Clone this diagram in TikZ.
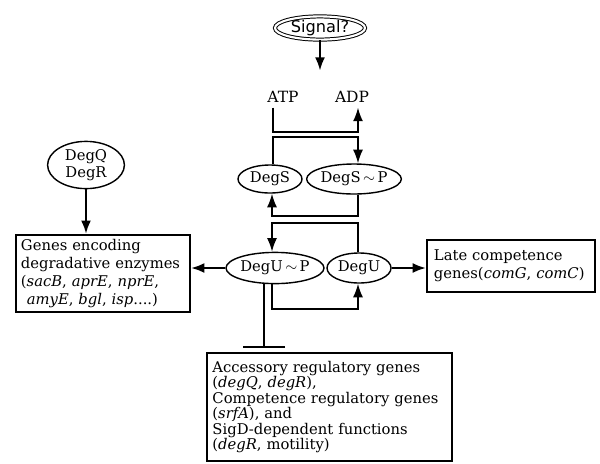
\documentclass[tikz,border=0pt]{standalone}
\usepackage{fontspec}
\setmainfont{DejaVu Serif}
\setsansfont{DejaVu Sans}
\usepackage{tikz}
\usetikzlibrary{arrows.meta, shapes.geometric}

\begin{document}
\begin{tikzpicture}[x=0.025cm, y=-0.025cm, node distance={21mm},
        main/.style = {draw, ellipse, inner sep=0pt, line width=1pt, font=\fontsize{10.5}{12}\selectfont},
        genebox/.style = {draw, rectangle, line width=1pt, align=left, inner sep=0pt},
        link/.style = {line width=1.1pt},
        heavy/.style = {line width=2pt},
        arr/.style = {-{Latex[length=3.4mm, width=2.5mm]}}]
    \useasboundingbox (0,0) rectangle (600,463);

    \node[main, double, double distance=1.5pt, line width=0.7pt, minimum width=2.25cm, minimum height=0.58cm, font=\sffamily\fontsize{11.5}{13}\selectfont] (signal) at (320,28) {Signal?};
    \node[font=\fontsize{11}{12}\selectfont] (atp) at (283,97) {ATP};
    \node[font=\fontsize{11}{12}\selectfont] (adp) at (352,97) {ADP};

    \node[main, minimum width=1.6cm, minimum height=0.7cm] (degs) at (270,179) {DegS};
    \node[main, minimum width=2.0cm, minimum height=0.75cm] (degsp) [right of=degs] {DegS\,$\sim$\,P};
    \node[main, minimum width=2.1cm, minimum height=0.78cm] (degup) at (275,268) {DegU\,$\sim$\,P};
    \node[main, minimum width=1.6cm, minimum height=0.75cm] (degu) [right of=degup] {DegU};
    \node[main, minimum width=1.92cm, minimum height=1.18cm, align=center] (degq) at (86,165) {DegQ\\DegR};

    \node[genebox, minimum width=4.35cm, minimum height=1.93cm, text width=4.1cm, font=\fontsize{10.5}{12.8}\selectfont] (genes) at (103,273.5)
        {Genes encoding\\degradative enzymes\\(\textit{sacB}, \textit{aprE}, \textit{nprE},\\\hspace*{0.4em}\textit{amyE}, \textit{bgl}, \textit{isp}....)};
    \node[genebox, minimum width=4.2cm, minimum height=1.3cm, text width=3.85cm, font=\fontsize{10.5}{13}\selectfont] (late) at (511,266)
        {Late competence\\genes(\textit{comG}, \textit{comC})};
    \node[genebox, minimum width=6.13cm, minimum height=2.7cm, text width=5.85cm, font=\fontsize{10.5}{11}\selectfont] (access) at (329.5,407)
        {Accessory regulatory genes\\(\textit{degQ}, \textit{degR}),\\Competence regulatory genes\\(\textit{srfA}), and\\SigD-dependent functions\\(\textit{degR}, motility)};

    % corners of the phosphate brackets
    \coordinate (sigend) at (320,71);
    \coordinate (kA) at (273,132);
    \coordinate (kB) at (358,132);
    \coordinate (kC) at (273,137);
    \coordinate (kD) at (358,137);
    \coordinate (kE) at (272,216);
    \coordinate (kF) at (358,216);
    \coordinate (kG) at (272,223);
    \coordinate (kH) at (358,223);
    \coordinate (kI) at (272,309);
    \coordinate (kJ) at (358,309);
    \coordinate (kK) at (264,348);

    \draw[arr, heavy] (signal) -- (sigend);
    \draw[arr, link] (atp.south -| kA) -- (kA) -- (kB) -- (adp.south -| kB);
    \draw[arr, link] (degs.north -| kC) -- (kC) -- (kD) -- (degsp.north -| kD);
    \draw[arr, link] (degsp.south -| kF) -- (kF) -- (kE) -- (degs.south -| kE);
    \draw[arr, link] (degu.north -| kH) -- (kH) -- (kG) -- (degup.north -| kG);
    \draw[arr, link] (degup.south -| kI) -- (kI) -- (kJ) -- (degu.south -| kJ);

    \draw[arr, heavy] (degq.south) -- (genes.north -| degq.south);
    \draw[arr, heavy] (degup.west) -- (genes.east |- degup.west);
    \draw[arr, heavy] (degu.east) -- (late.west |- degu.east);
    \draw[heavy, -{Bar[width=1.05cm, line width=1.4pt]}] (degup.south -| kK) -- (kK);
\end{tikzpicture}
\end{document}
